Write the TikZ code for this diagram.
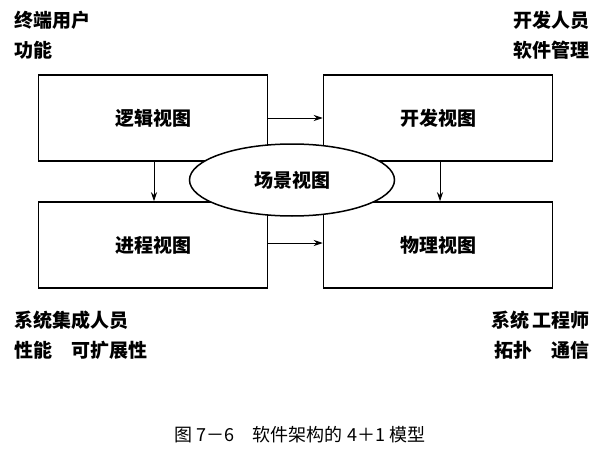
\documentclass[tikz,border=0pt]{standalone}
\usepackage{fontspec}
\newfontfamily\cjk{Noto Sans CJK SC}
\usetikzlibrary{shapes.geometric,arrows.meta}
\begin{document}
\begin{tikzpicture}[x=1pt,y=1pt,font=\cjk\bfseries\fontsize{19}{22}\selectfont,
  viewbox/.style={draw,line width=1.5pt,fill=white,minimum width=229pt,minimum height=86pt,inner sep=0pt},
  lbl/.style={inner sep=0pt},
  arr/.style={-{Stealth[length=9pt,width=6pt]},line width=1pt}]
\useasboundingbox (0,0) rectangle (603,451);
\node[viewbox] (log) at (153,333) {逻辑视图};
\node[viewbox] (dev) at (438,333) {开发视图};
\node[viewbox] (pro) at (153,206) {进程视图};
\node[viewbox] (phy) at (438,206) {物理视图};
\node[ellipse,draw,line width=1.5pt,fill=white,minimum width=205pt,minimum height=72pt,inner sep=0pt] (sc) at (292,271) {场景视图};
\coordinate (ht) at (0,333);
\coordinate (hb) at (0,208);
\coordinate (vl) at (154,0);
\coordinate (vr) at (440,0);
\draw[arr] (log.east |- ht) -- (dev.west |- ht);
\draw[arr] (pro.east |- hb) -- (phy.west |- hb);
\draw[arr] (vl |- log.south) -- (vl |- pro.north);
\draw[arr] (vr |- dev.south) -- (vr |- phy.north);
\node[lbl,anchor=west] (t1) at (14,431) {终端用户};
\node[lbl,anchor=west] (t2) at (14,401) {功能};
\node[lbl,anchor=east] (t3) at (590,431) {开发人员};
\node[lbl,anchor=east] (t4) at (590,401) {软件管理};
\node[lbl,anchor=west] (b1) at (14,131) {系统集成人员};
\node[lbl,anchor=west] (b2) at (14,101) {性能\quad 可扩展性};
\node[lbl,anchor=east] (b3) at (590,131) {系统\,工程师};
\node[lbl,anchor=east] (b4) at (590,101) {拓扑\quad 通信};
\node[lbl,font=\cjk\mdseries\fontsize{18}{22}\selectfont] (cap) at (300,16) {图 7－6\quad 软件架构的 4＋1 模型};
\end{tikzpicture}
\end{document}
